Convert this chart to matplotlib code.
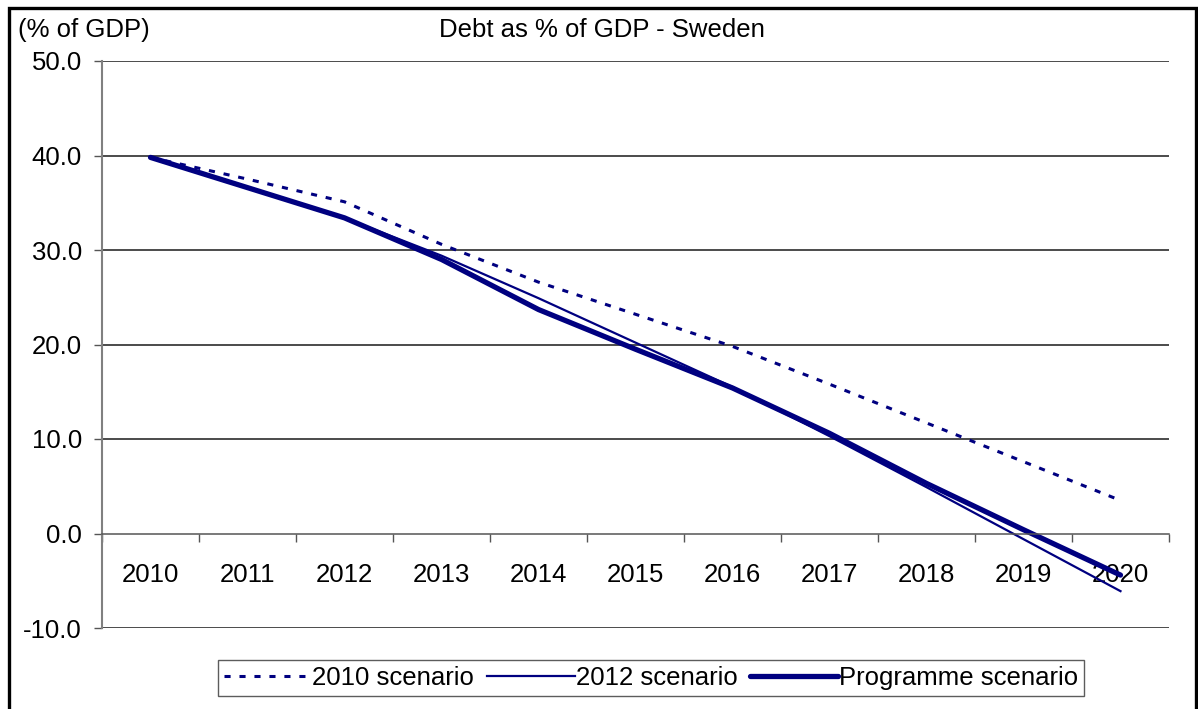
import matplotlib
matplotlib.use("Agg")
import matplotlib.pyplot as plt
from matplotlib.patches import Rectangle
from matplotlib.ticker import FixedLocator, NullFormatter

plt.rcParams['font.family'] = ['Liberation Sans', 'DejaVu Sans']

years = ['2010', '2011', '2012', '2013', '2014', '2015', '2016', '2017', '2018', '2019', '2020']
scenario_2010 = [39.8, 37.5, 35.1, 30.6, 26.6, 23.2, 19.8, 15.8, 11.7, 7.6, 3.5]
scenario_2012 = [39.8, 36.6, 33.4, 29.4, 24.9, 20.2, 15.5, 10.3, 4.9, -0.6, -6.1]
programme = [39.8, 36.6, 33.4, 29.0, 23.7, 19.5, 15.4, 10.6, 5.3, 0.4, -4.4]
y_ticks = [-10, 0, 10, 20, 30, 40, 50]

W, H = 1198, 709
fig = plt.figure(figsize=(W / 100, H / 100), dpi=100)
ax = fig.add_axes([102 / W, 1 - 628 / H, (1169 - 102) / W, (628 - 61) / H])

fs = 18.5
navy = '#000080'
x = list(range(len(years)))

ax.plot(x, scenario_2010, color=navy, lw=2.2, dashes=(2.0, 2.9),
        label='2010 scenario', solid_capstyle='butt')
ax.plot(x, scenario_2012, color=navy, lw=1.6, label='2012 scenario')
ax.plot(x, programme, color=navy, lw=3.8, label='Programme scenario',
        solid_joinstyle='round', solid_capstyle='round')

ax.set_xlim(-0.5, len(years) - 0.5)
ax.set_ylim(-10, 50)

# horizontal gridlines
for v in y_ticks:
    if v != 0:
        ax.axhline(v, color='#1a1a1a', lw=1.1, zorder=0)

for s in ['top', 'right']:
    ax.spines[s].set_visible(False)
ax.spines['left'].set_color('#808080')
ax.spines['left'].set_linewidth(1.5)
ax.spines['bottom'].set_position(('data', 0))
ax.spines['bottom'].set_color('#555555')
ax.spines['bottom'].set_linewidth(1.1)

ax.set_yticks(y_ticks)
ax.set_yticklabels([f'{v:.1f}' for v in y_ticks], fontsize=fs)
ax.tick_params(axis='y', direction='out', length=6, width=1, color='#555555', pad=8.5)

# category boundaries as ticks, labels at category centres
ax.xaxis.set_major_locator(FixedLocator([i - 0.5 for i in range(len(years) + 1)]))
ax.xaxis.set_major_formatter(NullFormatter())
ax.xaxis.set_minor_locator(FixedLocator(x))
ax.set_xticklabels(years, minor=True, fontsize=fs)
ax.tick_params(axis='x', which='major', direction='out', length=6, width=1, color='#555555')
ax.tick_params(axis='x', which='minor', length=0, pad=21)

fig.text(602 / W, 1 - 30 / H, 'Debt as % of GDP - Sweden', fontsize=fs,
         ha='center', va='center')
fig.text(18 / W, 1 - 30 / H, '(% of GDP)', fontsize=fs, ha='left', va='center')

leg = fig.legend(loc='center', bbox_to_anchor=(651 / W, 1 - 678 / H), ncol=3,
                 fontsize=fs, frameon=True, fancybox=False, handlelength=3.4,
                 handletextpad=0.05, columnspacing=0.5, borderpad=0.22,
                 borderaxespad=0)
leg.get_frame().set_edgecolor('#333333')
leg.get_frame().set_linewidth(1.0)

fig.patches.append(Rectangle((8.5 / W, -0.05), (1196 - 8.5) / W, 1 - 8 / H + 0.05,
                             transform=fig.transFigure, fill=False,
                             edgecolor='black', lw=2.4))

fig.savefig('out.png', dpi=100, facecolor='white')
